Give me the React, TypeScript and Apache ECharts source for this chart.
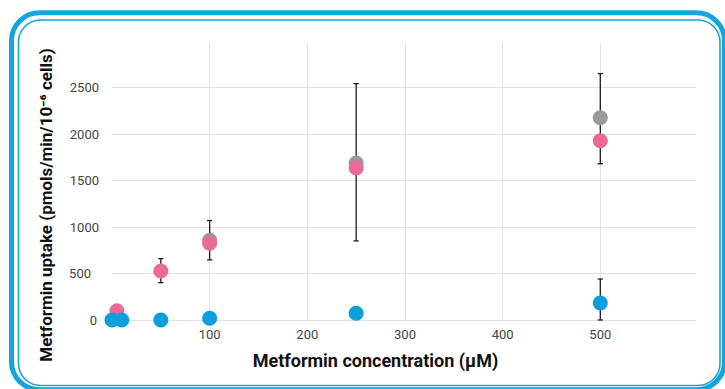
import React, { useEffect, useRef } from "react";
import * as echarts from "echarts";

// Data
const blueX = [0, 10, 50, 100, 250, 500];
const blueY = [0, 0, 0, 18, 72, 183];
const pinkX = [5, 50, 100, 250, 500];
const pinkY = [100, 528, 826, 1635, 1929];
const greyX = [100, 250, 500];
const greyY = [858, 1690, 2175];
// error bars: [x, low, high]
const errX = [50, 100, 250, 500, 500];
const errLow = [402, 647, 851, 1681, 0];
const errHigh = [660, 1070, 2543, 2651, 441];

const xTitle = "Metformin concentration (μM)";
const yTitle = "Metformin uptake (pmols/min/10⁻⁶ cells)";

const BLUE = "#0d9fdc";
const PINK = "#ec6a97";
const GREY = "#999a9b";
const FRAME = "#14a5dd";

export default function App() {
  const ref = useRef<HTMLDivElement>(null);
  useEffect(() => {
    if (!ref.current) return;
    const chart = echarts.init(ref.current, null, { renderer: "svg" });
    const zip = (xs: number[], ys: number[]) => xs.map((x, i) => [x, ys[i]]);
    const errData = errX.map((x, i) => [x, errLow[i], errHigh[i]]);
    const labelPad: Record<string, number> = { "500": 8, "0": 2 };
    chart.setOption({
      animation: false,
      backgroundColor: "#ffffff",
      textStyle: { fontFamily: "Roboto" },
      grid: { left: 112, right: 29, top: 43, bottom: 69, containLabel: false },
      xAxis: {
        type: "value",
        min: 0,
        max: 598,
        axisLine: { show: false },
        axisTick: { show: false },
        splitLine: {
          show: true,
          showMinLine: false,
          showMaxLine: false,
          lineStyle: { color: "#e2e2e2", width: 1 },
        },
        axisLabel: {
          showMinLabel: false,
          showMaxLabel: false,
          color: "#444",
          fontSize: 13,
          fontFamily: "Roboto",
          margin: 8,
        },
      },
      yAxis: {
        type: "value",
        min: 0,
        max: 2980,
        axisLine: { show: false },
        axisTick: { show: false },
        splitLine: {
          show: true,
          showMinLine: true,
          showMaxLine: false,
          lineStyle: { color: "#e2e2e2", width: 1 },
        },
        axisLabel: {
          showMaxLabel: false,
          color: "#444",
          fontSize: 13,
          fontFamily: "Roboto",
          margin: 13,
          formatter: (v: number) => {
            const s = String(v);
            const p = labelPad[s];
            return p ? `{p${p}|${s}}` : s;
          },
          rich: {
            p8: { padding: [0, 8, 0, 0], color: "#444", fontSize: 13, fontFamily: "Roboto" },
            p2: { padding: [0, 2, 0, 0], color: "#444", fontSize: 13, fontFamily: "Roboto" },
          },
        },
      },
      series: [
        {
          type: "custom",
          z: 1,
          data: errData,
          renderItem: (params: any, api: any) => {
            const x = api.value(0);
            const lo = api.coord([x, api.value(1)]);
            const hi = api.coord([x, api.value(2)]);
            const w = 2.6;
            const style = { stroke: "#1a1a1a", lineWidth: 1.3 };
            return {
              type: "group",
              children: [
                { type: "line", shape: { x1: hi[0], y1: hi[1], x2: lo[0], y2: lo[1] }, style },
                { type: "line", shape: { x1: hi[0] - w, y1: hi[1], x2: hi[0] + w, y2: hi[1] }, style },
                { type: "line", shape: { x1: lo[0] - w, y1: lo[1], x2: lo[0] + w, y2: lo[1] }, style },
              ],
            };
          },
        },
        {
          type: "scatter",
          z: 2,
          symbolSize: 15,
          itemStyle: { color: GREY, opacity: 1 },
          data: zip(greyX, greyY),
        },
        {
          type: "scatter",
          z: 3,
          symbolSize: 15,
          itemStyle: { color: PINK, opacity: 1 },
          data: zip(pinkX, pinkY),
        },
        {
          type: "scatter",
          z: 4,
          symbolSize: 15,
          itemStyle: { color: BLUE, opacity: 1 },
          data: zip(blueX, blueY),
        },
      ],
      graphic: [
        {
          type: "rect",
          silent: true,
          shape: { x: 11.5, y: 12.8, width: 713, height: 377, r: 28 },
          style: { fill: "none", stroke: FRAME, lineWidth: 5 },
        },
        {
          type: "rect",
          silent: true,
          shape: { x: 18.5, y: 20, width: 701.5, height: 365.5, r: 22 },
          style: { fill: "none", stroke: FRAME, lineWidth: 1.6 },
        },
        {
          type: "text",
          silent: true,
          x: 375.5,
          y: 360,
          style: {
            text: xTitle,
            fontFamily: "Roboto",
            fontWeight: "bold",
            fontSize: 18,
            fill: "#111",
            align: "center",
            verticalAlign: "middle",
          },
        },
        {
          type: "text",
          silent: true,
          x: 46,
          y: 205,
          rotation: Math.PI / 2,
          style: {
            text: yTitle,
            fontFamily: "Roboto",
            fontWeight: "bold",
            fontSize: 17,
            fill: "#111",
            align: "center",
            verticalAlign: "middle",
          },
        },
      ],
    });
    return () => chart.dispose();
  }, []);
  return <div ref={ref} style={{ width: 725, height: 389, position: "fixed", left: 0, top: 0 }} />;
}
